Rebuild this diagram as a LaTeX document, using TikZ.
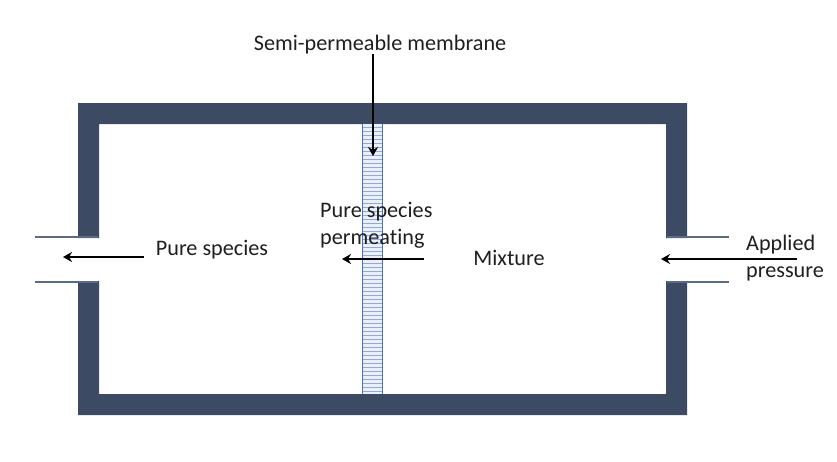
\documentclass[tikz,border=0pt]{standalone}
\usepackage{fontspec}
\setmainfont{Carlito}[RawFeature={-liga}]
\usetikzlibrary{arrows.meta,positioning}
\definecolor{wallc}{HTML}{3C4B63}
\definecolor{pipec}{HTML}{5A6B85}
\definecolor{memc}{HTML}{4A6FBE}
\definecolor{memf}{HTML}{EAF0FA}
\begin{document}
\begin{tikzpicture}[x=1pt, y=-1pt, >={Stealth[length=9pt,width=10pt]},
  t/.style={font=\fontsize{22.2}{27}\selectfont, align=left, inner sep=0pt, text=black!88},
  e/.style={->, line width=2.6pt, black}]
\useasboundingbox (0,0) rectangle (837,461);
% vessel
\fill[wallc] (78,103) -- (687,103) -- (687,238) -- (666,238) -- (666,124) -- (99,124) -- (99,238)
  -- (78,238) -- cycle;
\fill[wallc] (78,281) -- (99,281) -- (99,394) -- (666,394) -- (666,281) -- (687,281) -- (687,415)
  -- (78,415) -- cycle;
\draw[pipec, line width=2pt] (35,237) -- (98,237) (35,282) -- (98,282);
\draw[pipec, line width=2pt] (667,237) -- (729,237) (667,282) -- (729,282);
% membrane
\fill[memf] (362.5,124) rectangle (382.5,394);
\foreach \y in {127,131,...,393} \draw[memc!60, line width=0.9pt] (362.5,\y) -- (382.5,\y);
\draw[memc, line width=1.4pt] (362.5,124) -- (362.5,394) (382.5,124) -- (382.5,394);
% labels
\node[t] (semi) at (380,45) {Semi-permeable membrane};
\node[t, anchor=center] (pure) at (212,249.5) {Pure species};
\node[t, anchor=west] (perm) at (320,225) {Pure species\\permeating};
\node[t] (mix) at (509,257.5) {Mixture};
\node[t, anchor=west] (appl) at (746,258) {Applied\\pressure};
% arrows
\coordinate (semitop) at (373,54);
\coordinate (semitip) at (373,156);
\coordinate (puretail) at (144,257);
\coordinate (puretip) at (63,257);
\coordinate (permtail) at (424,259);
\coordinate (permtip) at (342,259);
\coordinate (appltail) at (797,259);
\coordinate (appltip) at (661,259);
\draw[e] (semitop) -- (semitip);
\draw[e] (puretail) -- (puretip);
\draw[e] (permtail) -- (permtip);
\draw[e] (appltail) -- (appltip);
\end{tikzpicture}
\end{document}
